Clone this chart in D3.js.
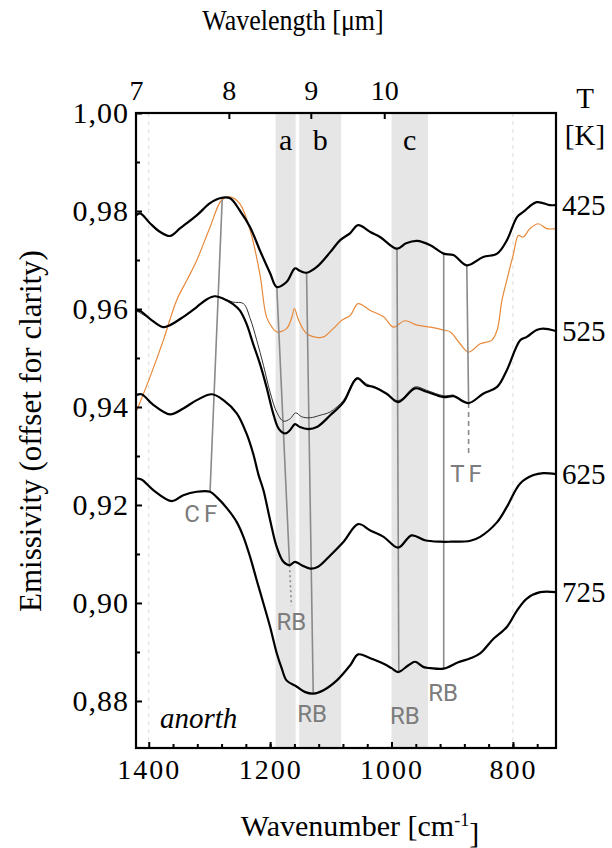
<!DOCTYPE html>
<head>
  <meta charset="utf-8">
  <script src="https://cdn.jsdelivr.net/npm/d3@7"></script>
  <style>
    body { margin: 0; background: #fff; }
    text { font-family: "Liberation Serif", "Times New Roman", serif; fill: #000; }
    .note { font-family: Roboto, "DejaVu Sans", sans-serif; fill: #7c7c7c; }
  </style>
</head>
<body>
  <div id="chartDiv"></div>
  <script>

    // spectra: [wavenumber cm-1, emissivity]
    var s425 = [[1421,0.9791],[1414,0.9795],[1398,0.9775],[1381,0.9757],[1365,0.9749],[1348,0.9765],[1321,0.9791],[1299,0.9816],[1283,0.9826],[1266,0.9826],[1250,0.9801],[1233,0.9767],[1217,0.9720],[1200,0.9673],[1189,0.9645],[1173,0.9655],[1159,0.9683],[1151,0.9678],[1140,0.9674],[1123,0.9686],[1101,0.9716],[1085,0.9740],[1068,0.9755],[1055,0.9771],[1035,0.9757],[1019,0.9747],[991,0.9723],[976,0.9734],[958,0.9739],[936,0.9730],[914,0.9713],[898,0.9710],[876,0.9689],[849,0.9706],[826,0.9713],[810,0.9740],[793,0.9788],[783,0.9798],[761,0.9818],[739,0.9812],[729,0.9812]];
    var s525 = [[1421,0.9597],[1414,0.9596],[1398,0.9580],[1376,0.9563],[1365,0.9567],[1343,0.9584],[1321,0.9604],[1304,0.9620],[1291,0.9626],[1277,0.9621],[1261,0.9610],[1250,0.9597],[1239,0.9570],[1228,0.9529],[1217,0.9489],[1206,0.9441],[1195,0.9387],[1186,0.9356],[1175,0.9346],[1167,0.9353],[1159,0.9365],[1151,0.9359],[1137,0.9355],[1123,0.9359],[1101,0.9383],[1079,0.9410],[1057,0.9458],[1041,0.9444],[1030,0.9441],[1008,0.9427],[989,0.9410],[961,0.9438],[942,0.9431],[914,0.9420],[898,0.9422],[873,0.9408],[849,0.9427],[826,0.9441],[810,0.9475],[788,0.9536],[777,0.9543],[761,0.9557],[750,0.9560],[729,0.9555]];
    var s525thin = [[1421,0.9597],[1398,0.9580],[1376,0.9563],[1365,0.9567],[1343,0.9584],[1321,0.9604],[1304,0.9620],[1291,0.9626],[1277,0.9621],[1261,0.9614],[1244,0.9611],[1233,0.9581],[1222,0.9536],[1211,0.9485],[1200,0.9430],[1189,0.9389],[1178,0.9371],[1167,0.9376],[1158,0.9388],[1148,0.9380],[1134,0.9378],[1118,0.9383],[1101,0.9390],[1079,0.9414],[1057,0.9460],[1041,0.9447],[1019,0.9436],[989,0.9413],[961,0.9441],[942,0.9434],[914,0.9423],[898,0.9425]];
    var sOrange = [[1421,0.9389],[1398,0.9461],[1376,0.9536],[1354,0.9618],[1337,0.9659],[1321,0.9699],[1299,0.9767],[1280,0.9822],[1266,0.9829],[1250,0.9815],[1233,0.9761],[1217,0.9672],[1206,0.9584],[1197,0.9563],[1189,0.9553],[1173,0.9560],[1164,0.9584],[1160,0.9601],[1153,0.9577],[1140,0.9550],[1123,0.9542],[1112,0.9543],[1096,0.9560],[1082,0.9577],[1068,0.9587],[1055,0.9611],[1035,0.9597],[1013,0.9584],[997,0.9563],[978,0.9576],[958,0.9567],[936,0.9563],[914,0.9557],[903,0.9553],[887,0.9529],[873,0.9512],[854,0.9529],[835,0.9536],[826,0.9557],[818,0.9618],[810,0.9659],[799,0.9713],[791,0.9750],[783,0.9747],[772,0.9764],[758,0.9774],[744,0.9764],[729,0.9764]];
    var s625 = [[1421,0.9424],[1412,0.9426],[1392,0.9404],[1365,0.9385],[1343,0.9397],[1321,0.9414],[1296,0.9426],[1277,0.9414],[1255,0.9387],[1239,0.9346],[1228,0.9305],[1219,0.9261],[1211,0.9230],[1200,0.9169],[1189,0.9114],[1178,0.9084],[1168,0.9077],[1159,0.9084],[1148,0.9077],[1134,0.9070],[1121,0.9074],[1101,0.9097],[1079,0.9125],[1055,0.9161],[1035,0.9148],[1013,0.9135],[989,0.9113],[967,0.9138],[945,0.9128],[920,0.9125],[903,0.9125],[870,0.9127],[854,0.9135],[826,0.9165],[810,0.9196],[788,0.9244],[766,0.9261],[750,0.9265],[729,0.9263]];
    var s725 = [[1421,0.9254],[1412,0.9252],[1392,0.9230],[1362,0.9208],[1343,0.9220],[1321,0.9227],[1299,0.9227],[1288,0.9216],[1271,0.9193],[1255,0.9165],[1244,0.9135],[1233,0.9094],[1222,0.9046],[1211,0.8999],[1200,0.8951],[1189,0.8897],[1181,0.8867],[1173,0.8842],[1156,0.8829],[1142,0.8818],[1129,0.8815],[1112,0.8822],[1090,0.8842],[1068,0.8873],[1055,0.8895],[1035,0.8887],[1013,0.8876],[1000,0.8867],[989,0.8859],[972,0.8873],[961,0.8880],[947,0.8869],[936,0.8867],[914,0.8866],[890,0.8879],[870,0.8887],[854,0.8897],[832,0.8927],[810,0.8951],[793,0.8985],[777,0.9009],[755,0.9022],[729,0.9022]];

    var temps = ["425", "525", "625", "725"];

    // shaded bands
    var bandNames = ["a", "b", "c"];
    var bandFrom = [1191, 1152, 1000];
    var bandTo = [1158, 1083, 940];

    // top axis (wavelength) and its position in wavenumber
    var wavelengths = [7, 8, 9, 10];
    var wavelengthPos = [1421, 1268, 1133, 1012];

    var bottomTicks = [1400, 1200, 1000, 800];
    var leftTicks = [0.88, 0.90, 0.92, 0.94, 0.96, 0.98, 1.00];

    // guide lines: [wn1, e1, wn2, e2, style]
    var guides = [
      [1279, 0.9823, 1299, 0.9227, "solid"],
      [1189, 0.9645, 1168, 0.9077, "solid"],
      [1168, 0.9077, 1165, 0.8995, "dot"],
      [1140, 0.9674, 1129, 0.8815, "solid"],
      [991, 0.9723, 988, 0.8859, "solid"],
      [914, 0.9713, 914, 0.8866, "solid"],
      [876, 0.9689, 873, 0.9408, "solid"],
      [873, 0.9408, 873, 0.9303, "dash"]
    ];
    // feature labels: [text, wn, e]
    var notes = [
      ["CF", 1311, 0.9183],
      ["RB", 1165, 0.8962],
      ["RB", 1131, 0.8775],
      ["RB", 978, 0.8771],
      ["RB", 915, 0.8818],
      ["TF", 874, 0.9265]
    ];

    var margin = {top: 113, right: 56, bottom: 100, left: 136};
    var width = 612 - margin.left - margin.right;
    var height = 848 - margin.top - margin.bottom;

    var svg = d3.select("#chartDiv").append("svg")
        .attr("width", 612)
        .attr("height", 848)
      .append("g")
        .attr("transform", "translate(" + margin.left + "," + margin.top + ")");

    var x = d3.scaleLinear().domain([1421, 729]).range([0, width]);
    var y = d3.scaleLinear().domain([0.8704, 1.0]).range([height, 0]);

    // bands
    bandNames.forEach(function(n, i) {
      svg.append("rect")
          .attr("x", x(bandFrom[i]))
          .attr("y", 0)
          .attr("width", x(bandTo[i]) - x(bandFrom[i]))
          .attr("height", height)
          .style("fill", "#e6e6e6");
      svg.append("text")
          .attr("x", (x(bandFrom[i]) + x(bandTo[i])) / 2)
          .attr("y", 37)
          .attr("text-anchor", "middle")
          .style("font-size", "30px")
          .text(n);
    });

    // light dashed verticals
    [1400, 800].forEach(function(d) {
      svg.append("line")
          .attr("x1", x(d)).attr("x2", x(d))
          .attr("y1", 0).attr("y2", height)
          .style("stroke", "#dcdcdc")
          .style("stroke-dasharray", "4,4");
    });

    var line = d3.line()
        .x(function(d) { return x(d[0]); })
        .y(function(d) { return y(d[1]); })
        .curve(d3.curveCatmullRom.alpha(0.5));

    svg.append("path").datum(sOrange).attr("d", line)
        .style("fill", "none").style("stroke", "#e8893a").style("stroke-width", 1.2);

    guides.forEach(function(g) {
      svg.append("line")
          .attr("x1", x(g[0])).attr("y1", y(g[1]))
          .attr("x2", x(g[2])).attr("y2", y(g[3]))
          .style("stroke", "#8a8a8a")
          .style("stroke-width", 1.6)
          .style("stroke-dasharray", g[4] == "dot" ? "2,3" : (g[4] == "dash" ? "5,4" : null));
    });

    svg.append("path").datum(s525thin).attr("d", line)
        .style("fill", "none").style("stroke", "#333").style("stroke-width", 1);

    [s425, s525, s625, s725].forEach(function(s, i) {
      svg.append("path").datum(s).attr("d", line)
          .style("fill", "none").style("stroke", "#000").style("stroke-width", 2.2);
      svg.append("text")
          .attr("x", width + 6)
          .attr("y", y(s[s.length - 1][1]))
          .attr("dy", "0.35em")
          .style("font-size", "29px")
          .text(temps[i]);
    });

    notes.forEach(function(n) {
      svg.append("text")
          .attr("class", "note")
          .attr("x", x(n[1]))
          .attr("y", y(n[2]))
          .attr("dy", "0.36em")
          .attr("text-anchor", "middle")
          .style("font-size", "24px")
          .style("letter-spacing", n[0] == "RB" ? "0px" : "4px")
          .text(n[0]);
    });

    svg.append("text")
        .attr("x", 24).attr("y", height - 20)
        .style("font-size", "29px")
        .style("font-style", "italic")
        .text("anorth");

    // axes
    var fmt = function(d) { return d3.format(".2f")(d).replace(".", ","); };

    var gLeft = svg.append("g")
        .call(d3.axisLeft(y).tickValues(leftTicks).tickFormat(fmt).tickSizeInner(-6).tickSizeOuter(0).tickPadding(7));
    svg.append("g")
        .call(d3.axisLeft(y).tickValues(d3.range(0.89, 1.0, 0.02)).tickFormat("").tickSizeInner(-4).tickSizeOuter(0));

    var gBottom = svg.append("g")
        .attr("transform", "translate(0," + height + ")")
        .call(d3.axisBottom(x).tickValues(bottomTicks).tickFormat(d3.format("d")).tickSizeInner(-6).tickSizeOuter(0).tickPadding(11));
    svg.append("g")
        .attr("transform", "translate(0," + height + ")")
        .call(d3.axisBottom(x).tickValues(d3.range(1360, 729, -40)).tickFormat("").tickSizeInner(-4).tickSizeOuter(0));

    var gTop = svg.append("g")
        .call(d3.axisTop(x).tickValues(wavelengthPos)
          .tickFormat(function(d, i) { return wavelengths[i]; })
          .tickSizeInner(-6).tickSizeOuter(0).tickPadding(13));

    svg.selectAll(".tick text").style("font-family", "Liberation Serif, serif");
    gLeft.selectAll(".tick text").style("font-size", "30px").style("letter-spacing", "1px");
    gBottom.selectAll(".tick text").style("font-size", "28px").style("letter-spacing", "2px");
    gTop.selectAll(".tick text").style("font-size", "28px");
    svg.selectAll(".domain").remove();
    svg.selectAll(".tick line").style("stroke", "#000").style("stroke-width", 2);
    gTop.selectAll(".tick line").filter(function(d, i) { return i == 0; }).remove();

    svg.append("rect")
        .attr("width", width).attr("height", height)
        .style("fill", "none").style("stroke", "#000").style("stroke-width", 2.2);

    // titles
    svg.append("text")
        .attr("transform", "translate(" + (30 - margin.left) + "," + (431 - margin.top) + ") rotate(-90)")
        .attr("dy", "0.35em")
        .attr("text-anchor", "middle")
        .style("font-size", "31px")
        .text("Emissivity (offset for clarity)");

    svg.append("text")
        .attr("transform", "translate(" + (293 - margin.left) + "," + (30 - margin.top) + ") scale(1,1.12)")
        .attr("text-anchor", "middle")
        .style("font-size", "26px")
        .text("Wavelength [\u03bcm]");

    var xt = svg.append("text")
        .attr("x", 360 - margin.left).attr("y", 836 - margin.top)
        .attr("text-anchor", "middle")
        .style("font-size", "30px");
    xt.append("tspan").text("Wavenumber [cm");
    xt.append("tspan").attr("dy", "-0.55em").style("font-size", "18px").text("-1");
    xt.append("tspan").attr("dy", "0.55em").text("]");

    svg.append("text")
        .attr("x", 585 - margin.left).attr("y", 108 - margin.top)
        .attr("text-anchor", "middle")
        .style("font-size", "29px")
        .text("T");
    svg.append("text")
        .attr("x", 585 - margin.left).attr("y", 145 - margin.top)
        .attr("text-anchor", "middle")
        .style("font-size", "29px")
        .text("[K]");

  </script>
</body>
